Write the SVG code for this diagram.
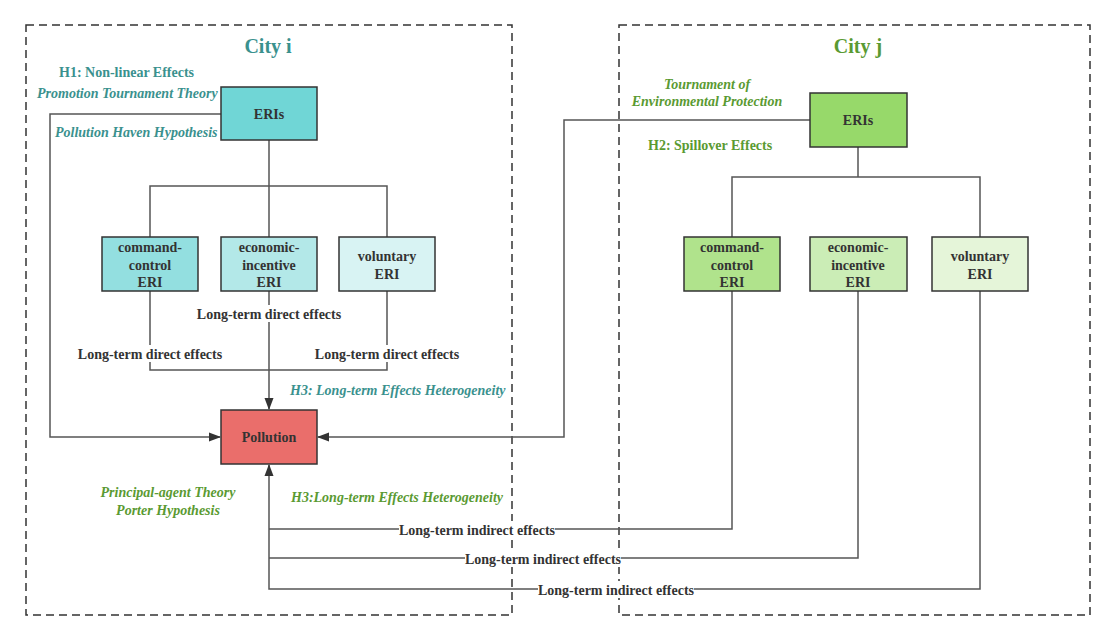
<svg xmlns="http://www.w3.org/2000/svg" width="1114" height="641" viewBox="0 0 1114 641" font-family="'Liberation Serif', 'DejaVu Serif', 'Times New Roman', serif">
<style>
text{font-family:'Liberation Serif','DejaVu Serif','Times New Roman',serif;font-weight:bold;}
.city{fill:none;stroke:#333;stroke-width:1.5;stroke-dasharray:8 5;}
.node rect{stroke:#333;stroke-width:1.5;}
.node text{font-size:14px;fill:#333;text-anchor:middle;}
.conn{fill:none;stroke:#555;stroke-width:1.5;}
.lbl{font-size:14px;fill:#333;text-anchor:middle;}
.bg{fill:#fff;}
.teal{fill:#3a918e;}
.green{fill:#5a9a32;}
.it{font-style:italic;}
.ttl{font-size:20px;text-anchor:middle;}
.ann{font-size:14px;}
</style>
<defs>
<marker id="arr" markerWidth="12" markerHeight="10" refX="11" refY="5" orient="auto" markerUnits="userSpaceOnUse">
<path d="M0,0.5 L12,5 L0,9.5 Z" fill="#333"/>
</marker>
</defs>
<rect width="1114" height="641" fill="#fff"/>
<g id="cityi-frame"><rect class="city" x="26" y="25" width="486" height="590"/></g>
<g id="cityj-frame"><rect class="city" x="619" y="25" width="471" height="590"/></g>

<g id="connectors">
<path class="conn" d="M269,140 V186 M150,237 V186 H387 V237 M269,186 V237"/>
<path class="conn" d="M221,114 H50 V437 H220" marker-end="url(#arr)"/>
<path class="conn" d="M150,291 V370 H387 V291"/>
<path class="conn" d="M269,291 V409" marker-end="url(#arr)"/>
<path class="conn" d="M810,120 H564 V437 H318" marker-end="url(#arr)"/>
<path class="conn" d="M858,147 V177 M732,237 V177 H980 V237"/>
<path class="conn" d="M732,291 V529 H269"/>
<path class="conn" d="M858,291 V558 H269"/>
<path class="conn" d="M980,291 V589 H269 V465" marker-end="url(#arr)"/>
</g>

<g id="n-eris-i" class="node"><rect x="221" y="87" width="96" height="53" fill="#70d6d6"/><text x="269" y="119">ERIs</text></g>
<g id="n-cc-i" class="node"><rect x="102" y="237" width="96" height="54" fill="#93dfe0"/><text x="150" y="252">command-</text><text x="150" y="270">control</text><text x="150" y="287">ERI</text></g>
<g id="n-ei-i" class="node"><rect x="221" y="237" width="96" height="54" fill="#b3e8e8"/><text x="269" y="252">economic-</text><text x="269" y="270">incentive</text><text x="269" y="287">ERI</text></g>
<g id="n-vol-i" class="node"><rect x="339" y="237" width="96" height="54" fill="#d8f3f3"/><text x="387" y="261">voluntary</text><text x="387" y="279">ERI</text></g>
<g id="n-pollution" class="node"><rect x="221" y="410" width="96" height="54" fill="#ea6e6b"/><text x="269" y="442">Pollution</text></g>

<g id="n-eris-j" class="node"><rect x="810" y="93" width="97" height="54" fill="#97d96a"/><text x="858" y="125">ERIs</text></g>
<g id="n-cc-j" class="node"><rect x="684" y="237" width="96" height="54" fill="#b0e38c"/><text x="732" y="252">command-</text><text x="732" y="270">control</text><text x="732" y="287">ERI</text></g>
<g id="n-ei-j" class="node"><rect x="810" y="237" width="97" height="54" fill="#cbedb6"/><text x="858" y="252">economic-</text><text x="858" y="270">incentive</text><text x="858" y="287">ERI</text></g>
<g id="n-vol-j" class="node"><rect x="932" y="237" width="96" height="54" fill="#e5f5d9"/><text x="980" y="261">voluntary</text><text x="980" y="279">ERI</text></g>

<g id="edge-labels">
<rect class="bg" x="196" y="305" width="146" height="17"/><text class="lbl" x="269" y="319">Long-term direct effects</text>
<rect class="bg" x="77" y="345" width="146" height="17"/><text class="lbl" x="150" y="359">Long-term direct effects</text>
<rect class="bg" x="314" y="345" width="146" height="17"/><text class="lbl" x="387" y="359">Long-term direct effects</text>
<rect class="bg" x="399" y="521" width="156" height="17"/><text class="lbl" x="477" y="535">Long-term indirect effects</text>
<rect class="bg" x="465" y="550" width="156" height="17"/><text class="lbl" x="543" y="564">Long-term indirect effects</text>
<rect class="bg" x="538" y="581" width="156" height="17"/><text class="lbl" x="616" y="595">Long-term indirect effects</text>
</g>

<g id="annotations">
<text class="teal ttl" x="268" y="53">City i</text>
<text class="green ttl" x="858" y="53">City j</text>
<text class="teal ann" x="59" y="77">H1: Non-linear Effects</text>
<text class="teal ann it" x="37" y="98">Promotion Tournament Theory</text>
<text class="teal ann it" x="55" y="137">Pollution Haven Hypothesis</text>
<text class="green ann it" x="707" y="89" text-anchor="middle">Tournament of</text>
<text class="green ann it" x="707" y="106" text-anchor="middle">Environmental Protection</text>
<text class="green ann" x="648" y="150">H2: Spillover Effects</text>
<text class="teal ann it" x="290" y="395">H3: Long-term Effects Heterogeneity</text>
<text class="green ann it" x="168" y="497" text-anchor="middle">Principal-agent Theory</text>
<text class="green ann it" x="168" y="515" text-anchor="middle">Porter Hypothesis</text>
<text class="green ann it" x="291" y="502">H3:Long-term Effects Heterogeneity</text>
</g>
</svg>
